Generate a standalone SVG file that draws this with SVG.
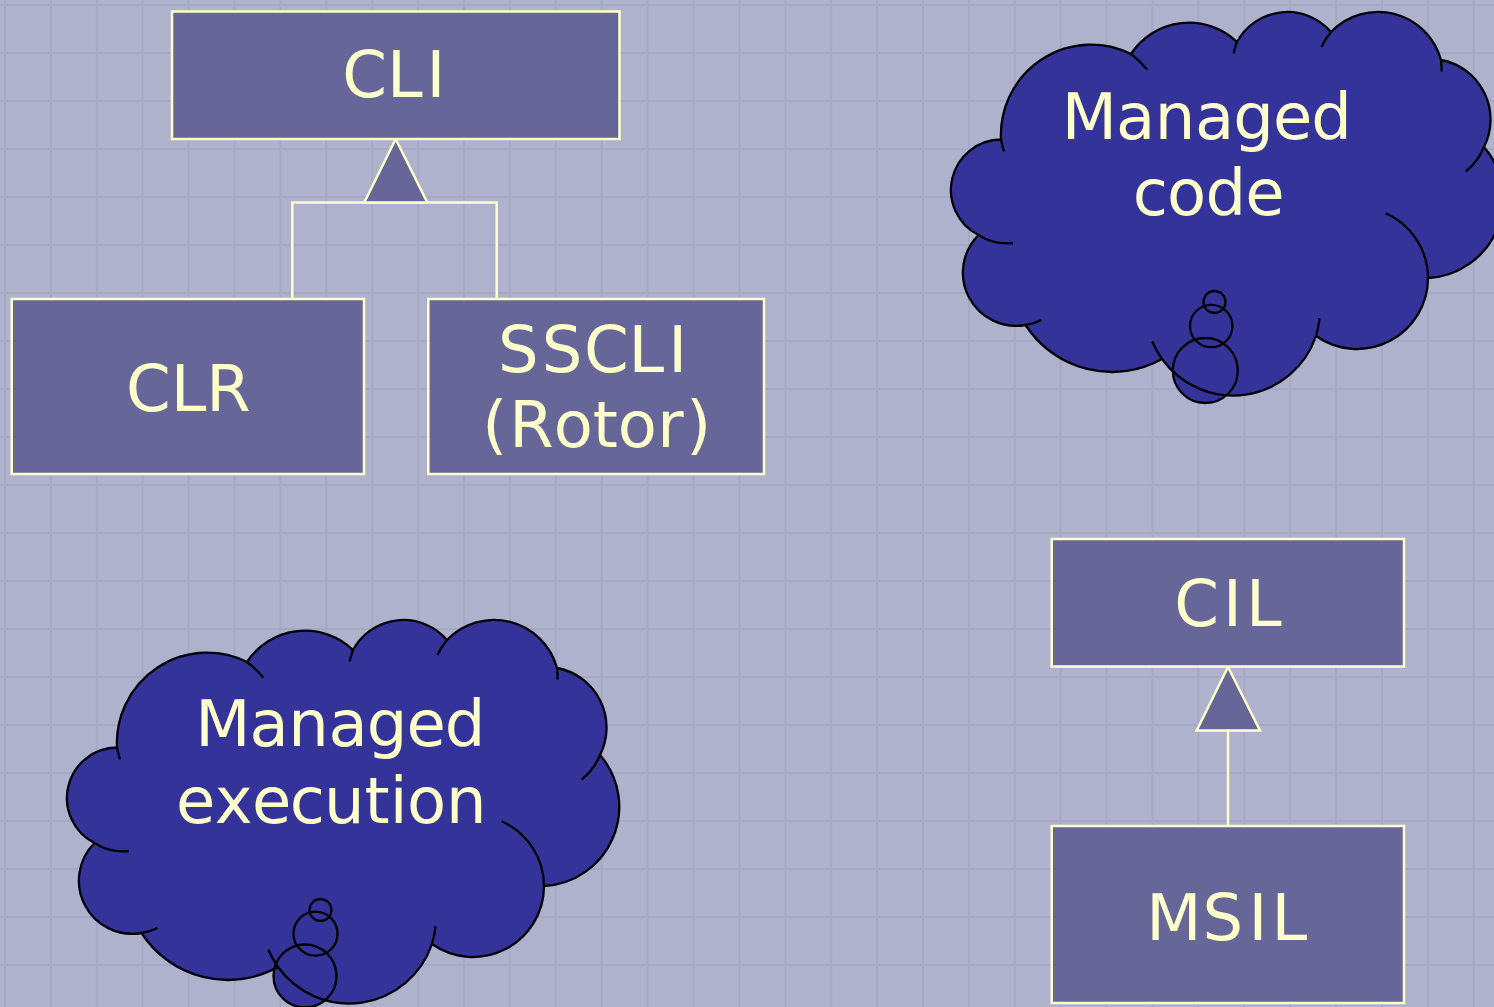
<svg xmlns="http://www.w3.org/2000/svg" xmlns:xlink="http://www.w3.org/1999/xlink" width="1494" height="1007" viewBox="0 0 1494 1007">
<style>
.box{fill:#666699;stroke:#ffffcc;stroke-width:2.5}
.lbl{font-family:"DejaVu Sans",Verdana,sans-serif;font-size:64px;fill:#ffffcc}
.cloud{fill:#333399;stroke:#000;stroke-width:2.3;stroke-linejoin:round}
.detail{fill:none;stroke:#000;stroke-width:2.3}
.bubfill{fill:#333399;stroke:none}
.bubline{fill:none;stroke:#000;stroke-width:2.3}
.conn{fill:none;stroke:#ffffcc;stroke-width:2.5}
.tri{fill:#666699;stroke:#ffffcc;stroke-width:2.5;stroke-linejoin:miter}
</style>
<defs>
<pattern id="grid" x="4" y="4" width="45.9" height="48" patternUnits="userSpaceOnUse">
<rect x="0" y="0" width="45.9" height="48" fill="#aeb2cc"/>
<rect x="0" y="0" width="2" height="48" fill="#a5a9c5"/>
<rect x="0" y="0" width="45.9" height="2" fill="#a5a9c5"/>
</pattern>
<path id="cloudShape" d="M978.5 235 A50.5 50.5 0 0 1 1001 139.5 A90.2 90.2 0 0 1 1131 54 A69.4 69.4 0 0 1 1237 42 A57.4 57.4 0 0 1 1331 32 A65.2 65.2 0 0 1 1441 60 A60.6 60.6 0 0 1 1484 147 A79.3 79.3 0 0 1 1428 278 A71 71 0 0 1 1316 336 A87.5 87.5 0 0 1 1162 359 A103 103 0 0 1 1025.5 325 A53.2 53.2 0 0 1 978.5 235 Z"/>
<path id="cloudDetail" d="M1001 139.5 A90.2 90.2 0 0 0 1004 151.5 M1131 54 A90.2 90.2 0 0 1 1147.3 69.7 M1237 42 A57.4 57.4 0 0 0 1233.7 53.5 M1331 32 A65.2 65.2 0 0 0 1321.5 47 M1441 60 A65.2 65.2 0 0 1 1441.5 71.5 M1484 147 A60.6 60.6 0 0 1 1465.7 171.5 M1428 278 A71 71 0 0 0 1385.7 213.3 M1316 336 A87.5 87.5 0 0 0 1319.5 318 M1162 359 A87.5 87.5 0 0 1 1152.3 341.5 M1025.5 325 A53.2 53.2 0 0 0 1041.5 320 M978.5 235 A52 52 0 0 0 1013 243"/>
</defs>
<rect x="0" y="0" width="1494" height="1007" fill="url(#grid)"/>

<g id="connectors">
<polyline class="conn" points="292.3,298 292.3,202.5 496.7,202.5 496.7,298"/>
<polygon class="tri" points="395.7,139 364.3,202.5 427.3,202.5"/>
<line class="conn" x1="1228" y1="730.5" x2="1228" y2="826"/>
<polygon class="tri" points="1228,667 1196.7,730.5 1260,730.5"/>
</g>

<g id="node-cli">
<rect class="box" x="172" y="11.5" width="447.5" height="127.5"/>
<text class="lbl" x="342.2 386.9 426.6" y="97">CLI</text>
</g>
<g id="node-clr">
<rect class="box" x="11.7" y="299" width="352.3" height="175"/>
<text class="lbl" x="126 170.7 206.3" y="410.7">CLR</text>
</g>
<g id="node-sscli">
<rect class="box" x="428.3" y="299" width="335.7" height="175"/>
<text class="lbl" x="498 541.8 584 628.6 668.3" y="371.7">SSCLI</text>
<text class="lbl" x="482.35 509.36 553.68 592.69 617.75 657.27 686.14" y="447">(Rotor)</text>
</g>
<g id="node-cil">
<rect class="box" x="1051.7" y="539" width="352.3" height="127.5"/>
<text class="lbl" x="1174.3 1223 1245.9" y="626">CIL</text>
</g>
<g id="node-msil">
<rect class="box" x="1051.7" y="826" width="352.3" height="177"/>
<text class="lbl" x="1146.2 1202.4 1248.6 1271.5" y="940">MSIL</text>
</g>

<g id="node-managed-code">
<circle class="bubfill" cx="1205.3" cy="370.5" r="32.5"/>
<circle class="bubfill" cx="1211.2" cy="326" r="21.2"/>
<circle class="bubfill" cx="1214.5" cy="302" r="11"/>
<use xlink:href="#cloudShape" href="#cloudShape" class="cloud"/>
<use xlink:href="#cloudDetail" href="#cloudDetail" class="detail"/>
<circle class="bubline" cx="1205.3" cy="370.5" r="32.5"/>
<circle class="bubline" cx="1211.2" cy="326" r="21.2"/>
<circle class="bubline" cx="1214.5" cy="302" r="11"/>
<text class="lbl" x="1061.73 1115.91 1154.75 1194.88 1233.34 1272.98 1311.35" y="138.5">Managed</text>
<text class="lbl" x="1132.84 1166.92 1205.55 1245.18" y="215">code</text>
</g>

<g id="node-managed-execution">
<circle class="bubfill" cx="305" cy="976" r="31.5"/>
<circle class="bubfill" cx="315.5" cy="933.7" r="22"/>
<circle class="bubfill" cx="320.5" cy="910" r="11"/>
<g transform="translate(-884,608)">
<use xlink:href="#cloudShape" href="#cloudShape" class="cloud"/>
<use xlink:href="#cloudDetail" href="#cloudDetail" class="detail"/>
</g>
<circle class="bubline" cx="305" cy="976" r="31.5"/>
<circle class="bubline" cx="315.5" cy="933.7" r="22"/>
<circle class="bubline" cx="320.5" cy="910" r="11"/>
<text class="lbl" x="195.23 249.41 288.25 328.38 366.84 406.48 444.85" y="746">Managed</text>
<text class="lbl" x="175.94 214.69 251.9 289.69 323.93 364.44 389.66 407.04 446.05" y="823">execution</text>
</g>
</svg>
